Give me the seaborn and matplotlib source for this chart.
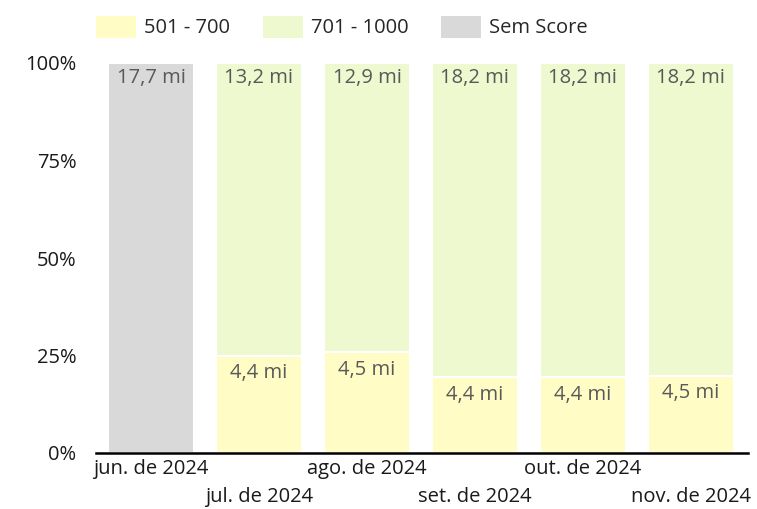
import numpy as np
import pandas as pd
import matplotlib
matplotlib.use("Agg")
import matplotlib.pyplot as plt
from matplotlib.patches import Patch
import seaborn as sns

# dados (milhoes)
meses = ["jun. de 2024", "jul. de 2024", "ago. de 2024", "set. de 2024", "out. de 2024", "nov. de 2024"]
faixa_501_700 = [0.0, 4.4, 4.5, 4.4, 4.4, 4.5]
faixa_701_1000 = [0.0, 13.2, 12.9, 18.2, 18.2, 18.2]
sem_score = [17.7, 0.0, 0.0, 0.0, 0.0, 0.0]

cores = {"501 - 700": "#FFFDC5", "701 - 1000": "#EEF9CF", "Sem Score": "#D9D9D9"}

sns.set_theme(style="white")
plt.rcParams["font.family"] = ["Open Sans", "DejaVu Sans"]

dt = pd.DataFrame({"mes": meses, "baixo": faixa_501_700, "alto": faixa_701_1000, "sem": sem_score})
dt["total"] = dt["baixo"] + dt["alto"] + dt["sem"]
dt["pct_baixo"] = dt["baixo"] / dt["total"] * 100
dt["pct_topo"] = 100.0
dt["topo"] = np.where(dt["sem"] > 0, "Sem Score", "701 - 1000")  # categoria do segmento de cima

fig = plt.figure(figsize=(7.57, 5.09), dpi=100)
ax = fig.add_axes([96 / 757, 56 / 509, 652 / 757, 390 / 509])

fs = 14.5

# camada de cima (100%) e depois a de baixo por cima
sns.barplot(data=dt, x="mes", y="pct_topo", hue="topo", palette=cores, dodge=False, saturation=1,
            width=0.8, edgecolor="white", linewidth=1.5, legend=False, ax=ax)
sns.barplot(data=dt, x="mes", y="pct_baixo", color=cores["501 - 700"], saturation=1,
            width=0.8, edgecolor="white", linewidth=1.5, ax=ax)

fmt = lambda v: f"{v:.1f}".replace(".", ",") + " mi"
for i, row in dt.iterrows():
    topo_val = row["sem"] if row["sem"] > 0 else row["alto"]
    ax.annotate(fmt(topo_val), (i, 100), xytext=(0, -3.5), textcoords="offset points",
                ha="center", va="top", fontsize=fs, color="#595959")
    if row["baixo"] > 0:
        ax.annotate(fmt(row["baixo"]), (i, row["pct_baixo"]), xytext=(0, -5.5), textcoords="offset points",
                    ha="center", va="top", fontsize=fs, color="#595959")

ax.set_xlim(-0.51, 5.53)
ax.set_ylim(0, 100)
ax.set_yticks([0, 25, 50, 75, 100])
ax.set_yticklabels([f"{t}%" for t in [0, 25, 50, 75, 100]])
ax.set_xticks(range(len(meses)))
ax.set_xticklabels([m if i % 2 == 0 else "\n" + m for i, m in enumerate(meses)])
for lbl in ax.get_xticklabels():
    lbl.set_linespacing(1.55)
ax.tick_params(axis="x", length=0, pad=4, labelsize=fs, labelcolor="#1a1a1a")
ax.tick_params(axis="y", length=0, pad=14, labelsize=fs, labelcolor="#1a1a1a")
ax.set_xlabel("")
ax.set_ylabel("")
for s in ["top", "right", "left"]:
    ax.spines[s].set_visible(False)
ax.spines["bottom"].set_color("black")
ax.spines["bottom"].set_linewidth(1.8)

handles = [Patch(facecolor=cores[k], edgecolor="none", label=k) for k in ["501 - 700", "701 - 1000", "Sem Score"]]
fig.legend(handles=handles, loc="upper left", bbox_to_anchor=(78 / 757, 1.005), ncol=3, frameon=False,
           fontsize=fs, handlelength=2.0, handleheight=1.3, handletextpad=0.4, columnspacing=1.6)

fig.savefig("out.png", dpi=100)
